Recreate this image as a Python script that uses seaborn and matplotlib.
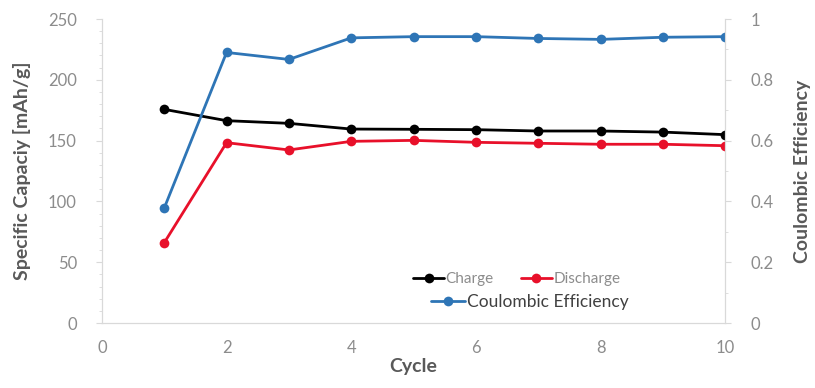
import matplotlib
matplotlib.use("Agg")
import matplotlib.pyplot as plt
import seaborn as sns
import pandas as pd
from matplotlib.ticker import MultipleLocator

cycles = [1, 2, 3, 4, 5, 6, 7, 8, 9, 10]
charge = [175.7, 166.4, 164.2, 159.5, 159.3, 159.0, 157.9, 157.9, 157.0, 154.9]
discharge = [66.0, 148.3, 142.3, 149.4, 150.2, 148.6, 147.8, 147.0, 147.0, 145.8]
coulombic = [0.378, 0.890, 0.867, 0.938, 0.942, 0.942, 0.936, 0.933, 0.940, 0.942]

sns.set_style("white")
plt.rcParams['font.family'] = ['Lato', 'DejaVu Sans']

df = pd.DataFrame({'Cycle': cycles, 'Charge': charge, 'Discharge': discharge,
                   'CE': coulombic})

fig = plt.figure(figsize=(8.15, 3.88), dpi=100)
ax = fig.add_axes([0.125, 0.1675, 0.765, 0.7835])
ax2 = ax.twinx()

tick_col = '#8c8c8c'
label_col = '#595959'
spine_col = '#d9d9d9'

sns.lineplot(data=df, x='Cycle', y='Charge', ax=ax, color='black', marker='o',
             markersize=7, linewidth=2, markeredgewidth=0, label='Charge', legend=False)
sns.lineplot(data=df, x='Cycle', y='Discharge', ax=ax, color='#e8102a', marker='o',
             markersize=7, linewidth=2, markeredgewidth=0, label='Discharge', legend=False)
sns.lineplot(data=df, x='Cycle', y='CE', ax=ax2, color='#2e75b6', marker='o',
             markersize=7, linewidth=2, markeredgewidth=0, label='Coulombic Efficiency',
             legend=False)

ax.set_xlim(0, 10)
ax.set_ylim(0, 250)
ax2.set_ylim(0, 1)
ax.xaxis.set_major_locator(MultipleLocator(2))
ax.xaxis.set_minor_locator(MultipleLocator(1))
ax.yaxis.set_major_locator(MultipleLocator(50))
ax.yaxis.set_minor_locator(MultipleLocator(10))
ax2.set_yticks([0, 0.2, 0.4, 0.6, 0.8, 1.0])
ax2.set_yticklabels(['0', '0.2', '0.4', '0.6', '0.8', '1'])
ax2.yaxis.set_minor_locator(MultipleLocator(0.1))

for a in (ax, ax2):
    for s in a.spines.values():
        s.set_color(spine_col)
    a.spines['top'].set_visible(False)
    a.tick_params(which='both', colors=spine_col, labelcolor=tick_col, labelsize=12)
    a.tick_params(which='major', length=4)
    a.tick_params(which='minor', length=2)
ax.tick_params(axis='x', which='both', direction='in', pad=12)
ax.tick_params(axis='y', which='both', direction='out', pad=14)
ax2.tick_params(axis='y', which='both', direction='out', pad=14)

ax.set_xlabel('Cycle', fontsize=14, fontweight='bold', color=label_col, labelpad=2)
ax.set_ylabel('Specific Capaciy [mAh/g]', fontsize=14, fontweight='bold', color=label_col,
              labelpad=12)
ax2.set_ylabel('Coulombic Efficiency', fontsize=14, fontweight='bold', color=label_col,
               labelpad=15)

leg1 = ax.legend(loc='lower left', bbox_to_anchor=(0.49, 0.1), ncol=2, frameon=False,
                 fontsize=11, handlelength=2.0, handletextpad=0.1, columnspacing=1.8,
                 borderaxespad=0)
for t in leg1.get_texts():
    t.set_color(tick_col)
leg2 = ax2.legend(loc='lower left', bbox_to_anchor=(0.516, 0.02), frameon=False,
                  fontsize=12.5, handlelength=2.0, handletextpad=0.1, borderaxespad=0)
for t in leg2.get_texts():
    t.set_color('#404040')

fig.savefig('out.png', dpi=100)
